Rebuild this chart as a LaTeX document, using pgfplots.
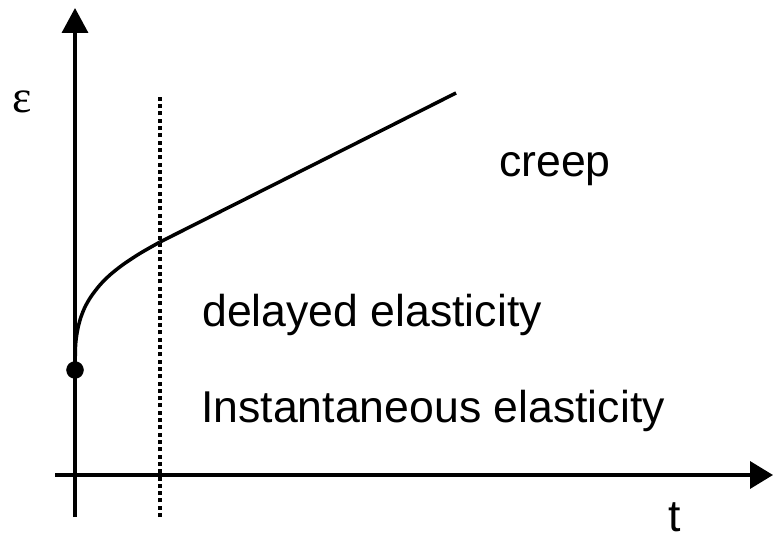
\documentclass[border=0pt]{standalone}
\usepackage{fontspec}
\setmainfont{Liberation Sans}
\newfontfamily\seriffont{Liberation Serif}
\usepackage{pgfplots}
\pgfplotsset{compat=1.18}
\usetikzlibrary{arrows.meta}
\begin{document}
\begin{tikzpicture}
\begin{axis}[
  scale only axis,
  width=773pt, height=541pt,
  xmin=0, xmax=773, ymin=0, ymax=541,
  hide axis,
  clip=false,
]
% axes
\addplot[black, line width=3.5pt, -{Triangle[width=26pt,length=25pt]}] coordinates {(75,24) (75,533)};
\addplot[black, line width=3.5pt, -{Triangle[width=27pt,length=23pt]}] coordinates {(55,66) (773,66)};
% boundary between delayed elasticity and creep
\addplot[black, line width=3.8pt, dash pattern=on 4pt off 3.3pt] coordinates {(160,24) (160,447)};
% strain curve
\addplot[black, line width=3.5pt, smooth] coordinates {
  (75,171) (75.5,194.4) (76.5,204.6) (78.3,214.5) (81,224.1) (85,234) (91,244.4)
  (100,256.1) (110,266.1) (123,276.4) (140,287.6) (160,299)};
\addplot[black, line width=3.5pt] coordinates {(160,299) (456,448)};
\addplot[only marks, mark=*, mark size=8.5pt, black] coordinates {(75,171)};
% labels
\node[anchor=base west, inner sep=0pt, font=\fontsize{44.6}{48}\selectfont] at (axis cs:499,364) {creep};
\node[anchor=base west, inner sep=0pt, font=\fontsize{44.6}{48}\selectfont] at (axis cs:202,214) {delayed elasticity};
\node[anchor=base west, inner sep=0pt, font=\fontsize{44.6}{48}\selectfont] at (axis cs:201,118) {Instantaneous elasticity};
\node[anchor=base west, inner sep=0pt, font=\fontsize{44.6}{48}\selectfont] at (axis cs:668,10) {t};
\node[anchor=base west, inner sep=0pt, font=\fontsize{46}{50}\seriffont] at (axis cs:12,428) {ε};
\end{axis}
\pgfresetboundingbox
\path (current axis.south west) rectangle (current axis.north east);
\end{tikzpicture}
\end{document}
